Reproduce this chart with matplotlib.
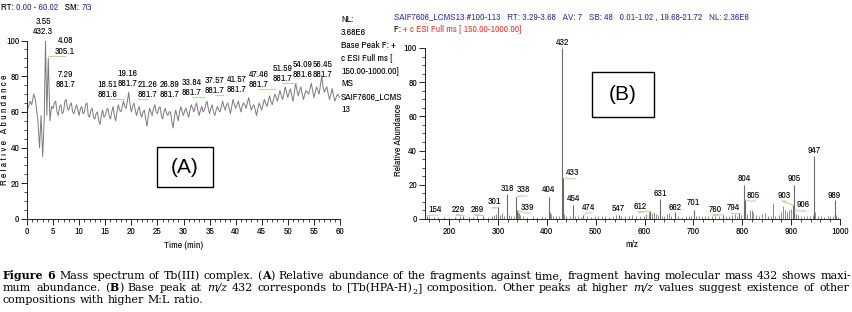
import re
import numpy as np
import matplotlib
matplotlib.use("Agg")
import matplotlib.pyplot as plt
from matplotlib.font_manager import fontManager
from matplotlib.patches import Rectangle
from matplotlib.ticker import MultipleLocator

# ---- panel A: chromatogram (time, relative abundance) ----
t_early = [0.0, 0.3, 0.6, 0.9, 1.3, 1.6, 1.9, 2.1, 2.4, 2.7, 3.0, 3.3, 3.55, 3.8, 4.08, 4.4, 4.7]
v_early = [61, 63, 66, 64, 70, 67, 60, 55, 40, 58, 35, 56, 100, 58, 90, 55, 63]
t_main = np.arange(5.0, 60.001, 0.25)
v_main = [62, 65, 66, 60, 58, 63, 64, 59, 60, 66, 67, 62, 61, 64, 65, 60, 59, 62, 64, 61,
          58, 62, 63, 59, 60, 64, 65, 58, 57, 61, 62, 57, 56, 59, 60, 55, 53, 58, 61, 57,
          58, 61, 62, 58, 56, 60, 63, 58, 55, 60, 64, 61, 60, 63, 66, 63, 62, 66, 71, 64,
          60, 63, 65, 61, 58, 61, 63, 59, 57, 60, 61, 56, 52, 58, 62, 60, 58, 62, 64, 60,
          59, 62, 63, 58, 56, 60, 62, 59, 58, 60, 60, 55, 51, 57, 61, 58, 55, 60, 63, 60,
          58, 61, 62, 59, 57, 61, 64, 62, 60, 63, 65, 61, 58, 61, 63, 60, 61, 64, 66, 62,
          59, 62, 64, 60, 58, 61, 63, 61, 60, 63, 66, 63, 61, 64, 65, 62, 59, 63, 67, 64,
          62, 64, 66, 63, 60, 63, 65, 64, 62, 65, 68, 64, 61, 63, 64, 61, 58, 62, 65, 63,
          61, 64, 67, 65, 63, 66, 69, 66, 64, 67, 70, 68, 66, 69, 72, 69, 67, 70, 74, 71,
          68, 71, 73, 69, 66, 71, 76, 72, 69, 72, 74, 70, 67, 70, 72, 71, 70, 73, 76, 72,
          68, 71, 74, 72, 70, 75, 80, 74, 71, 73, 74, 70, 67, 70, 73, 69, 66, 68, 70, 69,
          68]

# peak labels: retention time, m/z, label centre (t, abundance)
a_rt = ["3.55", "4.08", "7.29", "18.51", "19.16", "21.26", "26.89", "33.84",
        "37.57", "41.57", "47.46", "51.59", "54.09", "56.45"]
a_mz = ["432.3", "305.1", "881.7", "881.6", "881.7", "881.7", "881.7", "881.7",
        "881.7", "881.7", "881.7", "881.7", "881.6", "881.7"]
a_lx = [3.1, 7.3, 7.3, 15.5, 19.2, 23.2, 27.4, 31.6, 36.0, 40.2, 44.4, 48.9, 52.9, 56.7]
a_ly = [108, 97, 78, 72.6, 78.8, 72.6, 72.6, 73.7, 74.9, 75.4, 78.2, 81.6, 83.8, 83.8]

# ---- panel B: mass spectrum ----
mz_lab = [154, 229, 269, 301, 318, 338, 339, 404, 432, 433, 454, 474, 547, 612,
          631, 662, 701, 760, 794, 804, 805, 903, 905, 906, 947, 989]
ht_lab = [2, 2, 2, 7, 14.5, 13, 5, 13, 100, 24, 8, 2.5, 2.5, 4.5,
          11.5, 4, 5, 2.5, 3.5, 20, 11, 8, 20, 5, 37, 11]
lab_x = [171, 218, 257, 292, 319, 353, 359.5, 404.5, 432, 453.6, 455.7, 486, 546, 591,
         632, 663, 700, 744, 781, 803.5, 822, 885, 906, 924, 947, 988]
lab_y = [5.8, 5.8, 5.8, 10, 18, 17, 7, 17, 103.5, 27, 11.7, 7, 6.4, 7.6,
         15, 7, 9.4, 5.8, 7, 23.4, 14, 14, 23.4, 8.2, 40, 14]
mz_minor = [160, 170, 178, 190, 200, 212, 222, 240, 250, 258, 280, 288, 293, 297, 305,
            308, 312, 322, 326, 333, 341, 343, 346, 352, 360, 372, 380, 390, 396, 406,
            408, 412, 418, 425, 436, 440, 448, 458, 464, 470, 482, 490, 498, 505, 512,
            520, 528, 535, 541, 552, 560, 568, 575, 583, 590, 598, 604, 609, 616, 620,
            624, 628, 636, 640, 645, 650, 655, 668, 676, 684, 690, 696, 706, 712, 718,
            724, 730, 738, 744, 752, 766, 772, 778, 786, 790, 798, 810, 816, 819, 822,
            828, 834, 840, 846, 852, 858, 863, 868, 875, 880, 884, 888, 892, 896, 900,
            910, 915, 920, 926, 932, 938, 944, 949, 955, 962, 968, 975, 980, 985, 992, 996]
ht_minor = [1.5, 1, 1.2, 1, 1.3, 1, 1.5, 1, 1.2, 1.5, 1.2, 1.8, 2.5, 3, 2.5,
            3.5, 2, 2.5, 1.5, 2, 4, 3.5, 2.5, 1.5, 1.2, 1.5, 1, 1.5, 1.2, 4,
            3, 2, 1.5, 2, 3, 1.5, 1.5, 2, 1.5, 1.2, 1.5, 1, 1.5, 2, 1.5,
            2, 1.2, 2, 2.5, 2, 1.5, 1.5, 2.5, 1.5, 1.8, 2, 3, 4, 3.5, 4,
            3, 2.5, 2, 2, 3, 3.5, 2, 1.5, 1.2, 2, 1.5, 2, 2, 1.5, 2,
            1.5, 1.8, 2, 1.5, 2, 1.5, 2, 2.5, 3, 2, 2.5, 3, 5, 5.5, 4,
            2.5, 2, 3, 3.5, 1.5, 2, 9.5, 2, 2.5, 4, 7.5, 5, 4, 5, 6,
            3, 2.5, 2, 2, 1.5, 2, 2.5, 4, 1.5, 1.5, 1.2, 1.5, 1.8, 2, 2.5, 1]

# narrow sans for the instrument text (Arial Narrow look), if there is one
names = {f.name for f in fontManager.ttflist}
if "Archivo Narrow" in names:
    plt.rcParams["font.family"] = ["Archivo Narrow", "DejaVu Sans"]
    fs = 7.0
else:
    plt.rcParams["font.family"] = ["Liberation Sans", "DejaVu Sans"]
    fs = 5.6
plt.rcParams["font.size"] = fs

W, H = 853, 312
fig = plt.figure(figsize=(W / 100, H / 100), dpi=100)
renderer = fig.canvas.get_renderer()
blue = "#3b3b9e"
red = "#e53a3a"
leader = "#b8dba0"


def style_axes(ax):
    for s in ["top", "right"]:
        ax.spines[s].set_visible(False)
    for s in ["left", "bottom"]:
        ax.spines[s].set_linewidth(0.6)
    ax.tick_params(which="major", length=4, width=0.6, labelsize=fs, pad=1.5)
    ax.tick_params(which="minor", length=2, width=0.5)
    ax.yaxis.set_major_locator(MultipleLocator(20))
    ax.yaxis.set_minor_locator(MultipleLocator(5))


# panel A
ax1 = fig.add_axes([27 / W, 1 - 219 / H, 313 / W, 178.5 / H])
t = np.concatenate([t_early, t_main])
v = np.concatenate([v_early, v_main])
ax1.plot(t, v, color="#7a7a7a", lw=0.7)
ax1.set_xlim(0, 60)
ax1.set_ylim(0, 100)
style_axes(ax1)
ax1.xaxis.set_major_locator(MultipleLocator(5))
ax1.xaxis.set_minor_locator(MultipleLocator(1))
ax1.set_xlabel("Time (min)", fontsize=fs, labelpad=4)
fig.text(5 / W, 1 - 130 / H, "R e l a t i v e   A b u n d a n c e", rotation=90,
         ha="center", va="center", fontsize=fs)
for rt, mz, lx, ly in zip(a_rt, a_mz, a_lx, a_ly):
    ax1.text(lx, ly, rt + "\n" + mz, ha="center", va="center", fontsize=fs,
             linespacing=1.2, clip_on=False)
    tp = float(rt)
    if abs(lx - tp) > 1.5:
        ax1.plot([lx, tp], [ly - 5.5, ly - 5.5], color=leader, lw=0.8, clip_on=False)
ax1.add_patch(Rectangle((0.415, 0.18), 0.18, 0.225, transform=ax1.transAxes,
                        fill=False, lw=1.0, color="black"))
ax1.text(0.505, 0.29, "(A)", transform=ax1.transAxes, ha="center", va="center",
         fontsize=15, family="Liberation Sans")

# panel B
ax2 = fig.add_axes([424.6 / W, 1 - 219 / H, 415.4 / W, 171 / H])
ax2.vlines(mz_minor, 0, ht_minor, color="#7a7a7a", lw=0.6)
ax2.vlines(mz_lab, 0, ht_lab, color="#6a6a6a", lw=0.8)
ax2.set_xlim(150, 1000)
ax2.set_ylim(0, 100)
style_axes(ax2)
ax2.xaxis.set_major_locator(MultipleLocator(100))
ax2.xaxis.set_minor_locator(MultipleLocator(20))
ax2.set_xlabel("m/z", fontsize=fs, labelpad=3)
fig.text(399 / W, 1 - 140 / H, "Relative Abundance", rotation=90,
         ha="center", va="center", fontsize=fs)
for m, h, lx, ly in zip(mz_lab, ht_lab, lab_x, lab_y):
    ax2.text(lx, ly, str(m), ha="center", va="center", fontsize=fs, clip_on=False)
    if abs(lx - m) > 6 or ly - h > 8:
        ax2.plot([m + 2, lx - 4, lx + 6], [h, ly - 3.5, ly - 3.5], color=leader, lw=0.8)
ax2.add_patch(Rectangle((0.402, 0.595), 0.15, 0.265, transform=ax2.transAxes,
                        fill=False, lw=1.0, color="black"))
ax2.text(0.477, 0.727, "(B)", transform=ax2.transAxes, ha="center", va="center",
         fontsize=15, family="Liberation Sans")


# header texts, pieces placed one after another
def seq_text(x, y, pieces):
    for s, col in pieces:
        tt = fig.text(x / W, 1 - y / H, s, va="center", fontsize=fs, color=col)
        x += tt.get_window_extent(renderer).width


seq_text(1, 8, [("RT: ", "black"), ("0.00 - 60.02", blue), ("   SM: ", "black"), ("7G", blue)])
nl_lines = ["NL:", "3.68E6", "Base Peak F: +", "c ESI Full ms [", "150.00-1000.00]",
            "MS", "SAIF7606_LCMS", "13"]
for i, s in enumerate(nl_lines):
    fig.text(341 / W, 1 - (20 + i * 12.8) / H, s, va="center", fontsize=fs)
seq_text(394, 17, [("SAIF7606_LCMS13 #100-113   RT: 3.29-3.68   AV: 7   SB: 48   "
                    "0.01-1.02 , 19.68-21.72   NL: 2.36E6", blue)])
seq_text(394, 29, [("F: ", "black"), ("+ c ESI Full ms [ 150.00-1000.00]", red)])

# caption, justified word by word
cap_font = "DejaVu Serif"
B = {"weight": "bold"}
I = {"style": "italic"}
N = {}
SUB = {"scale": 0.7, "dy": -2.5}
line1 = [("Figure 6", B), (" Mass spectrum of Tb(III) complex. (", N), ("A", B),
         (") Relative abundance of the fragments against time, fragment having "
          "molecular mass 432 shows maxi-", N)]
line2 = [("mum abundance. (", N), ("B", B), (") Base peak at ", N), ("m/z", I),
         (" 432 corresponds to [Tb(HPA-H)", N), ("2", SUB),
         ("] composition. Other peaks at higher ", N), ("m/z", I),
         (" values suggest existence of other", N)]
line3 = [("compositions with higher M:L ratio.", N)]


def tokens_of(pieces):
    toks = []
    for text, props in pieces:
        for p in re.split(r"( )", text):
            if p == " ":
                toks.append(None)
            elif p:
                toks.append((p, props))
    return toks


def tok_kw(props, size):
    kw = {k: val for k, val in props.items() if k not in ("dy", "scale")}
    kw["fontsize"] = size * props.get("scale", 1)
    return kw


def tok_widths(toks, size):
    ws = []
    for tok in toks:
        if tok is None:
            ws.append(0)
            continue
        tt = fig.text(0, 0, tok[0], family=cap_font, **tok_kw(tok[1], size))
        ws.append(tt.get_window_extent(renderer).width)
        tt.remove()
    return ws


# size the caption font so the first line fills the width with ordinary spacing
t1 = tokens_of(line1)
w8 = sum(tok_widths(t1, 8.0)) + t1.count(None) * 8.0 * 0.32 * 100 / 72
cap_fs = 8.0 * 836 / w8


def caption_line(pieces, y, justify, x0=3, x1=849):
    toks = tokens_of(pieces)
    ws = tok_widths(toks, cap_fs)
    nsp = toks.count(None)
    sp = (x1 - x0 - sum(ws)) / nsp if justify else cap_fs * 0.32 * 100 / 72
    x = x0
    for tok, w in zip(toks, ws):
        if tok is None:
            x += sp
            continue
        dy = tok[1].get("dy", 0)
        fig.text(x / W, 1 - (y - dy) / H, tok[0], family=cap_font,
                 va="baseline", **tok_kw(tok[1], cap_fs))
        x += w


caption_line(line1, 279, True, x1=851)
caption_line(line2, 291, True)
caption_line(line3, 303, False)

fig.savefig("out.png", dpi=100)
